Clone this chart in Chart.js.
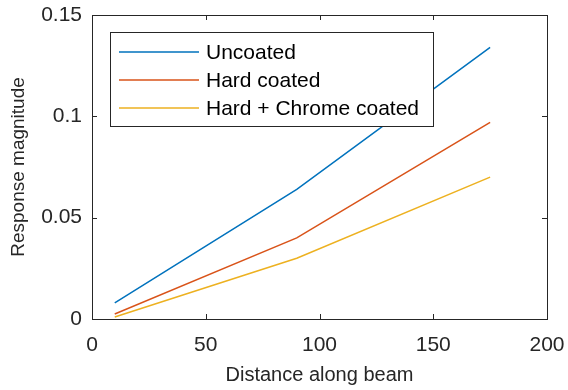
<!DOCTYPE html>
<html>
<head>
<meta charset="utf-8">
<script src="https://cdn.jsdelivr.net/npm/chart.js@4/dist/chart.umd.min.js"></script>
<style>
  html, body { margin: 0; padding: 0; background: #fff; }
  #wrap { width: 568px; height: 390px; }
</style>
</head>
<body>
<div id="wrap"><canvas id="c" width="568" height="390"></canvas></div>
<script>
// Distance along the beam at which the response was measured
const distance = [10, 90, 175];

// Response magnitude for each coating
const uncoated = [0.008, 0.064, 0.134];
const hardCoated = [0.0025, 0.040, 0.097];
const hardChromeCoated = [0.001, 0.030, 0.070];

const seriesNames = ['Uncoated', 'Hard coated', 'Hard + Chrome coated'];
const seriesValues = [uncoated, hardCoated, hardChromeCoated];
const seriesColors = ['#0072BD', '#D95319', '#EDB120'];

const xTicks = [0, 50, 100, 150, 200];
const yTicks = [0, 0.05, 0.1, 0.15];

const axisColor = '#262626';
const fontFamily = '"Liberation Sans", Arial, Helvetica, sans-serif';

const datasets = seriesValues.map((vals, i) => ({
  label: seriesNames[i],
  data: distance.map((d, j) => ({ x: d, y: vals[j] })),
  borderColor: seriesColors[i],
  backgroundColor: seriesColors[i],
  borderWidth: 1.5,
  showLine: true,
  pointRadius: 0,
  tension: 0
}));

// Box around the plot area with inward-pointing ticks
const boxPlugin = {
  id: 'box',
  afterDraw(chart) {
    const { ctx, chartArea: a, scales } = chart;
    ctx.save();
    ctx.strokeStyle = axisColor;
    ctx.lineWidth = 1;
    ctx.strokeRect(Math.round(a.left) + 0.5, Math.round(a.top) + 0.5,
                   Math.round(a.right - a.left), Math.round(a.bottom - a.top));
    const len = 5;
    ctx.beginPath();
    xTicks.forEach(v => {
      const x = Math.round(scales.x.getPixelForValue(v)) + 0.5;
      ctx.moveTo(x, a.bottom); ctx.lineTo(x, a.bottom - len);
      ctx.moveTo(x, a.top); ctx.lineTo(x, a.top + len);
    });
    yTicks.forEach(v => {
      const y = Math.round(scales.y.getPixelForValue(v)) + 0.5;
      ctx.moveTo(a.left, y); ctx.lineTo(a.left + len, y);
      ctx.moveTo(a.right, y); ctx.lineTo(a.right - len, y);
    });
    ctx.stroke();
    ctx.restore();
  }
};

// Legend box drawn inside the upper-left of the plot area
const legendPlugin = {
  id: 'insideLegend',
  afterDraw(chart) {
    const { ctx, chartArea: a } = chart;
    const x0 = a.left + 18, y0 = a.top + 17;
    const w = 323, h = 94;
    ctx.save();
    ctx.fillStyle = '#fff';
    ctx.fillRect(x0, y0, w, h);
    ctx.strokeStyle = axisColor;
    ctx.lineWidth = 1;
    ctx.strokeRect(Math.round(x0) + 0.5, Math.round(y0) + 0.5, w, h);
    ctx.font = '21px ' + fontFamily;
    ctx.textBaseline = 'middle';
    chart.data.datasets.forEach((ds, i) => {
      const y = y0 + 20 + i * 28;
      ctx.strokeStyle = ds.borderColor;
      ctx.lineWidth = 1.5;
      ctx.beginPath();
      ctx.moveTo(x0 + 9, y); ctx.lineTo(x0 + 89, y);
      ctx.stroke();
      ctx.fillStyle = '#000';
      ctx.fillText(ds.label, x0 + 96, y + 1);
    });
    ctx.restore();
  }
};

// Keep tick-label overhang from shrinking the plot area
function noOverhang(s) {
  s.paddingTop = 0;
  s.paddingBottom = 0;
  s.paddingLeft = 0;
  s.paddingRight = 0;
}

new Chart(document.getElementById('c'), {
  type: 'scatter',
  data: { datasets },
  options: {
    responsive: false,
    animation: false,
    layout: { padding: { top: 15, right: 21, left: 0, bottom: 0 } },
    plugins: {
      legend: { display: false },
      tooltip: { enabled: false }
    },
    scales: {
      x: {
        type: 'linear',
        min: 0, max: 200,
        afterBuildTicks: s => { s.ticks = xTicks.map(v => ({ value: v })); },
        afterFit: s => { s.height = 71; noOverhang(s); },
        grid: { display: false, drawTicks: false },
        border: { display: false },
        ticks: {
          color: axisColor,
          font: { family: fontFamily, size: 21 },
          padding: 14,
          maxRotation: 0
        },
        title: {
          display: true,
          text: 'Distance along beam',
          color: axisColor,
          font: { family: fontFamily, size: 20 },
          padding: { top: 0, bottom: 3 }
        }
      },
      y: {
        type: 'linear',
        min: 0, max: 0.15,
        afterBuildTicks: s => { s.ticks = yTicks.map(v => ({ value: v })); },
        afterFit: s => { s.width = 92; noOverhang(s); },
        grid: { display: false, drawTicks: false },
        border: { display: false },
        ticks: {
          color: axisColor,
          font: { family: fontFamily, size: 21 },
          padding: 10,
          callback: v => String(Number(v.toFixed(2)))
        },
        title: {
          display: true,
          text: 'Response magnitude',
          color: axisColor,
          font: { family: fontFamily, size: 19 },
          padding: { top: 7, bottom: 0 }
        }
      }
    }
  },
  plugins: [boxPlugin, legendPlugin]
});
</script>
</body>
</html>
